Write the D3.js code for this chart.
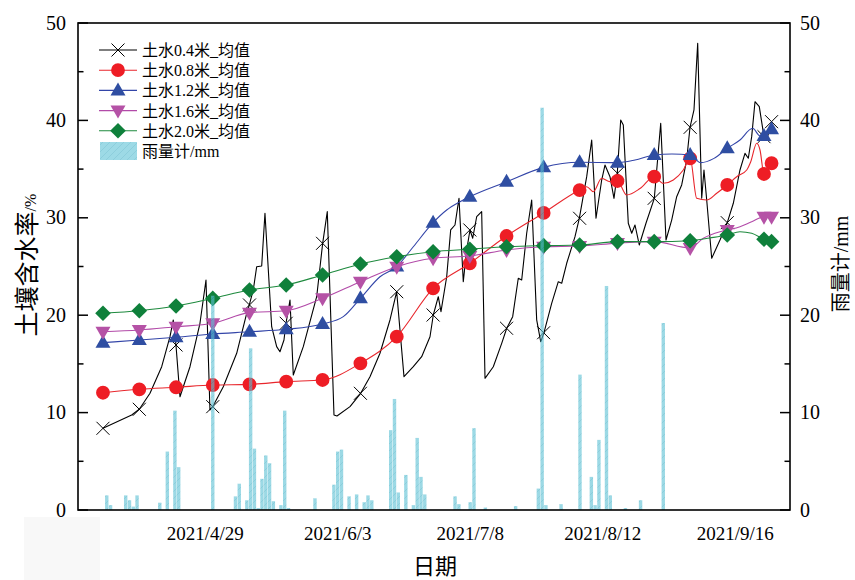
<!DOCTYPE html>
<html><head><meta charset="utf-8">
<script src="https://cdn.jsdelivr.net/npm/d3@7"></script>
<style>body{margin:0;background:#fff}svg{display:block}</style>
</head><body>
<svg id="chart" width="855" height="580"></svg>
<script>
// ---------------- DATA ----------------
const startDate = "2021-04-02";               // day 0 of the soil series
const xDomain = ["2021-03-26T09:40", "2021-09-30T11:20"];
const xTickDates = ["2021-04-29", "2021-06-03", "2021-07-08", "2021-08-12", "2021-09-16"];
const yTicks = [0, 10, 20, 30, 40, 50];
const seriesNames = ["土水0.4米_均值", "土水0.8米_均值", "土水1.2米_均值", "土水1.6米_均值", "土水2.0米_均值"];
const rainName = "雨量计/mm";

// days (since startDate) where symbols are drawn
const markerDays = [0, 9.6, 19.3, 29.0, 38.7, 48.4, 58.0, 68.0, 77.6, 87.2, 96.9, 106.6, 116.4, 125.9, 135.9, 145.6, 155.1, 164.9, 174.6, 176.6];

// 0.4 m: symbol values and full line trace [day, value]
const soil04Marks = [8.39, 10.34, 16.94, 10.61, 21.05, 19.17, 27.38, 11.98, 22.41, 20.02, 28.75, 18.66, 18.2, 29.95, 34.57, 32.0, 39.29, 29.5, 38.33, 39.87];
const soil04Line = [[0,8.39],[7.58,9.75],[9.59,10.34],[12.42,11.98],[15.51,14.71],[17.70,17.79],[18.57,19.51],[19.28,16.94],[20.34,11.63],[22.98,14.71],[25.62,19.17],[27.21,23.61],[28.26,10.27],[28.98,10.61],[31.78,12.66],[35.32,16.09],[37.96,20.19],[38.65,21.05],[39.70,22.59],[40.60,24.98],[41.92,25.05],[42.79,30.46],[44.56,18.82],[45.88,16.77],[46.75,16.25],[47.81,17.45],[48.34,19.17],[49.40,21.56],[50.27,13.86],[52.91,16.77],[56.45,21.90],[58.03,27.38],[59.25,30.63],[61.02,9.75],[61.81,9.65],[65.25,10.61],[68.07,11.98],[70.53,13.69],[73.17,16.09],[75.81,19.51],[77.58,22.41],[79.51,13.69],[81.97,14.71],[84.18,15.74],[86.38,17.79],[87.25,20.02],[88.57,21.90],[89.28,20.36],[90.79,23.95],[91.84,28.75],[92.98,29.26],[94.04,32.0],[95.17,23.44],[96.07,26.69],[96.94,28.75],[97.66,27.9],[98.71,30.11],[100.03,30.63],[100.91,13.52],[103.10,14.71],[105.32,17.11],[106.64,18.66],[108.22,19.85],[109.70,23.79],[110.60,23.61],[111.92,28.41],[113.24,31.83],[114.56,19.51],[115.62,17.28],[116.49,18.2],[118.52,21.22],[120.27,23.44],[121.17,23.28],[122.49,25.33],[124.68,28.06],[125.82,29.95],[127.77,34.22],[129.09,37.99],[130.23,29.95],[131.73,33.88],[132.60,35.42],[133.92,34.22],[134.98,32.0],[135.85,34.57],[136.75,40.04],[137.44,39.53],[138.76,29.44],[139.66,28.41],[140.53,29.26],[141.66,27.21],[143.43,29.44],[145.63,32.0],[147.32,39.70],[148.72,27.72],[150.22,29.77],[151.54,32.17],[152.86,33.37],[154.18,35.93],[155.06,39.29],[156.11,41.07],[157.09,47.92],[158.15,32.0],[158.75,34.91],[159.47,31.83],[160.79,25.84],[162.98,27.72],[164.91,29.5],[166.50,31.49],[168.26,34.91],[169.58,36.62],[170.46,36.11],[171.35,38.33],[172.23,41.92],[173.36,41.41],[174.60,38.33],[175.32,37.99],[176.64,39.87]];

// deeper layers: values at markerDays + extra in-between points [day, value]
const soil08Marks = [12.04, 12.39, 12.6, 12.83, 12.9, 13.18, 13.35, 15.06, 17.8, 22.76, 25.33, 28.13, 30.5, 32.85, 33.78, 34.22, 36.1, 33.37, 34.5, 35.6];
const soil08Extra = [[127.77,33.19],[129.52,32.68],[131.73,34.06],[133.92,33.71],[138.33,32.34],[141.85,33.0],[148.0,33.54],[150.65,33.88],[153.29,34.91],[156.83,32.0],[159.47,31.83],[162.11,32.52],[167.4,34.22],[170.04,34.91],[171.1,35.76],[172.68,37.65],[173.55,36.96]];
const soil12Marks = [17.18, 17.45, 17.73, 18.07, 18.3, 18.55, 19.1, 21.73, 25.0, 29.5, 32.17, 33.7, 35.18, 35.7, 35.66, 36.45, 36.45, 37.13, 38.4, 39.08];
const soil12Extra = [[63.48,19.85],[73.17,23.95],[81.97,27.03],[90.79,30.8],[94.3,31.65],[140.53,35.93],[150.3,36.55],[157.88,35.66],[161.4,36.1],[168.26,37.99],[171.62,39.19],[173.55,38.4]];
const soil16Marks = [18.3, 18.48, 18.82, 19.17, 20.26, 20.46, 21.73, 23.44, 24.98, 25.84, 26.08, 26.7, 27.03, 27.1, 27.4, 27.55, 26.9, 28.75, 30.1, 30.1];
const soil16Extra = [[158.57,27.9],[162.98,28.57],[168.26,29.09],[171.35,29.6]];
const soil20Marks = [20.2, 20.46, 20.94, 21.73, 22.59, 23.1, 24.13, 25.26, 26.0, 26.52, 26.77, 27.03, 27.14, 27.2, 27.55, 27.55, 27.65, 28.23, 27.8, 27.55];
const soil20Extra = [[160.3,27.93],[168.26,28.57],[171.35,28.41]];

// daily rainfall (mm)
const rainDates = ["2021-04-03","2021-04-04","2021-04-08","2021-04-09","2021-04-10","2021-04-11","2021-04-17","2021-04-19","2021-04-21","2021-04-22","2021-05-01","2021-05-07","2021-05-08","2021-05-10","2021-05-11","2021-05-12","2021-05-13","2021-05-14","2021-05-15","2021-05-16","2021-05-17","2021-05-19","2021-05-20","2021-05-21","2021-05-28","2021-06-02","2021-06-03","2021-06-04","2021-06-06","2021-06-08","2021-06-10","2021-06-11","2021-06-12","2021-06-17","2021-06-18","2021-06-19","2021-06-21","2021-06-23","2021-06-24","2021-06-25","2021-06-26","2021-07-04","2021-07-05","2021-07-08","2021-07-09","2021-07-12","2021-07-20","2021-07-26","2021-07-27","2021-07-28","2021-08-01","2021-08-06","2021-08-09","2021-08-10","2021-08-11","2021-08-13","2021-08-14","2021-08-18","2021-08-22","2021-08-28"];
const rainValues = [1.5,0.5,1.5,1.0,0.35,1.5,0.75,6.0,10.2,4.4,22.0,1.4,2.7,1.0,16.6,6.3,0.2,3.2,5.6,4.8,0.9,0.5,10.2,0.2,1.2,2.6,6.0,6.2,1.4,1.6,0.8,1.5,1.0,8.2,11.4,1.8,3.6,0.5,7.4,3.4,1.6,1.4,0.6,0.8,8.4,0.25,0.4,2.2,41.3,0.5,0.6,13.9,3.4,0.5,7.2,23.0,1.5,0.2,1.0,19.2];

// ---------------- CHART ----------------
const M = {left: 78, right: 790, top: 23, bottom: 510};
const svg = d3.select("#chart");
const serif = "'Liberation Serif','Times New Roman','Noto Sans CJK SC',serif";

// very faint grey patch at the lower-left corner of the original picture
svg.append("rect").attr("x", 24).attr("y", 517).attr("width", 76).attr("height", 63).attr("fill", "#f8f8f8");

const parseDay = d3.timeParse("%Y-%m-%d");
const parseDT = d3.timeParse("%Y-%m-%dT%H:%M");
const t0 = parseDay(startDate);
const dayToDate = d => new Date(t0.getTime() + d * 86400000);

const x = d3.scaleTime().domain(xDomain.map(parseDT)).range([M.left, M.right]);
const y = d3.scaleLinear().domain([0, 50]).range([M.bottom, M.top]);
const yR = d3.scaleLinear().domain([0, 50]).range([M.bottom, M.top]);

// hatch pattern for rain bars
const defs = svg.append("defs");
const pat = defs.append("pattern").attr("id", "hatch").attr("patternUnits", "userSpaceOnUse")
  .attr("width", 7).attr("height", 7);
pat.append("rect").attr("width", 7).attr("height", 7).attr("fill", "#5cc1d5");
pat.append("path").attr("d", "M-1,1 l2,-2 M0,7 l7,-7 M6,8 l2,-2")
  .attr("stroke", "#3aa9c0").attr("stroke-width", 0.8);
defs.append("clipPath").attr("id", "plotclip").append("rect")
  .attr("x", M.left).attr("y", M.top).attr("width", M.right - M.left).attr("height", M.bottom - M.top);

const plot = svg.append("g").attr("clip-path", "url(#plotclip)");

// symbols
const sym = {
  cross: "M-6.5,-6.5L6.5,6.5M-6.5,6.5L6.5,-6.5",
  circle: d3.symbol(d3.symbolCircle, 150)(),
  up: "M0,-8L7.5,5L-7.5,5Z",
  down: "M0,8L7.5,-5L-7.5,-5Z",
  diamond: "M0,-7.8L7.8,0L0,7.8L-7.8,0Z"
};
const styles = [
  {color: "#000000", sym: "cross", fill: "none", stroke: "#000", lw: 1.1},
  {color: "#e8262c", sym: "circle", fill: "#ee1d25", stroke: "none", lw: 1.1},
  {color: "#3345a8", sym: "up", fill: "#2f4ea2", stroke: "none", lw: 1.1},
  {color: "#b24aa8", sym: "down", fill: "#b552a6", stroke: "none", lw: 1.1},
  {color: "#1e8a3e", sym: "diamond", fill: "#0f803b", stroke: "none", lw: 1.1}
];

const markPts = marks => markerDays.map((d, i) => [d, marks[i]]);
const mergePts = (marks, extra) => markPts(marks).concat(extra).sort((a, b) => a[0] - b[0]);

const seriesLines = [
  {pts: soil04Line, marks: markPts(soil04Marks), curve: d3.curveLinear},
  {pts: mergePts(soil08Marks, soil08Extra), marks: markPts(soil08Marks), curve: d3.curveMonotoneX},
  {pts: mergePts(soil12Marks, soil12Extra), marks: markPts(soil12Marks), curve: d3.curveMonotoneX},
  {pts: mergePts(soil16Marks, soil16Extra), marks: markPts(soil16Marks), curve: d3.curveMonotoneX},
  {pts: mergePts(soil20Marks, soil20Extra), marks: markPts(soil20Marks), curve: d3.curveMonotoneX}
];

seriesLines.forEach((s, i) => {
  const st = styles[i];
  const line = d3.line().x(p => x(dayToDate(p[0]))).y(p => y(p[1])).curve(s.curve);
  plot.append("path").datum(s.pts).attr("d", line).attr("fill", "none")
    .attr("stroke", st.color).attr("stroke-width", st.lw).attr("stroke-linejoin", "round");
  plot.append("g").selectAll("path").data(s.marks).join("path")
    .attr("transform", p => `translate(${x(dayToDate(p[0]))},${y(p[1])})`)
    .attr("d", sym[st.sym]).attr("fill", st.fill).attr("stroke", st.stroke).attr("stroke-width", 1);
});

// rain bars (drawn on top, semi-transparent)
const rain = rainDates.map((d, i) => ({date: parseDay(d), v: rainValues[i]}));
const dayW = x(parseDay("2021-05-02")) - x(parseDay("2021-05-01"));
const bw = dayW * 0.9;
plot.append("g").attr("opacity", 0.6).selectAll("rect").data(rain).join("rect")
  .attr("x", d => x(d.date) - bw / 2).attr("width", bw)
  .attr("y", d => yR(d.v)).attr("height", d => yR(0) - yR(d.v))
  .attr("fill", "url(#hatch)");

// frame
svg.append("rect").attr("x", M.left).attr("y", M.top).attr("width", M.right - M.left)
  .attr("height", M.bottom - M.top).attr("fill", "none").attr("stroke", "#000").attr("stroke-width", 1.6);

// left axis ticks (inward) + labels
const minorTicks = d3.range(5, 50, 10);
const axL = svg.append("g");
axL.selectAll("line.maj").data(yTicks).join("line").attr("x1", M.left).attr("x2", M.left + 10)
  .attr("y1", d => y(d)).attr("y2", d => y(d)).attr("stroke", "#000").attr("stroke-width", 1.5);
axL.selectAll("line.min").data(minorTicks).join("line").attr("x1", M.left).attr("x2", M.left + 5.5)
  .attr("y1", d => y(d)).attr("y2", d => y(d)).attr("stroke", "#000").attr("stroke-width", 1.5);
axL.selectAll("text").data(yTicks).join("text").attr("x", M.left - 12).attr("y", d => y(d) + 6.5)
  .attr("text-anchor", "end").attr("font-family", serif).attr("font-size", 20).text(d => d);

const axR = svg.append("g");
axR.selectAll("line.maj").data(yTicks).join("line").attr("x1", M.right).attr("x2", M.right - 10)
  .attr("y1", d => yR(d)).attr("y2", d => yR(d)).attr("stroke", "#000").attr("stroke-width", 1.5);
axR.selectAll("line.min").data(minorTicks).join("line").attr("x1", M.right).attr("x2", M.right - 5.5)
  .attr("y1", d => yR(d)).attr("y2", d => yR(d)).attr("stroke", "#000").attr("stroke-width", 1.5);
axR.selectAll("text").data(yTicks).join("text").attr("x", M.right + 10).attr("y", d => yR(d) + 6.5)
  .attr("text-anchor", "start").attr("font-family", serif).attr("font-size", 20).text(d => d);

// bottom tick labels
const fmt = d3.timeFormat("%Y/%-m/%-d");
svg.append("g").selectAll("text").data(xTickDates.map(parseDay)).join("text")
  .attr("x", d => x(d)).attr("y", 540).attr("text-anchor", "middle")
  .attr("font-family", serif).attr("font-size", 19).text(d => fmt(d));

// axis titles
svg.append("text").attr("x", 435).attr("y", 574).attr("text-anchor", "middle")
  .attr("font-family", "'Noto Sans CJK SC',sans-serif").attr("font-size", 22).text("日期");
const lt = svg.append("text").attr("transform", "translate(36,265) rotate(-90)").attr("text-anchor", "middle")
  .attr("font-family", serif);
lt.append("tspan").attr("font-size", 25).text("土壤含水率");
lt.append("tspan").attr("font-size", 16).text("/%");
svg.append("text").attr("transform", "translate(848,264) rotate(-90)").attr("text-anchor", "middle")
  .attr("font-family", serif).attr("font-size", 20).text(rainName);

// legend
const lg = svg.append("g");
const rowY = i => 50 + i * 20.2;
seriesNames.forEach((name, i) => {
  const st = styles[i];
  lg.append("line").attr("x1", 99).attr("x2", 137).attr("y1", rowY(i)).attr("y2", rowY(i))
    .attr("stroke", st.color).attr("stroke-width", st.lw);
  lg.append("path").attr("transform", `translate(118,${rowY(i)})`).attr("d", sym[st.sym])
    .attr("fill", st.fill).attr("stroke", st.stroke);
  lg.append("text").attr("x", 142).attr("y", rowY(i) + 6).attr("font-family", serif)
    .attr("font-size", 16).text(name);
});
lg.append("rect").attr("x", 100).attr("y", rowY(5) - 9).attr("width", 37).attr("height", 18)
  .attr("fill", "url(#hatch)").attr("opacity", 0.6);
lg.append("text").attr("x", 142).attr("y", rowY(5) + 6).attr("font-family", serif)
  .attr("font-size", 16).text(rainName);
</script>
</body></html>
